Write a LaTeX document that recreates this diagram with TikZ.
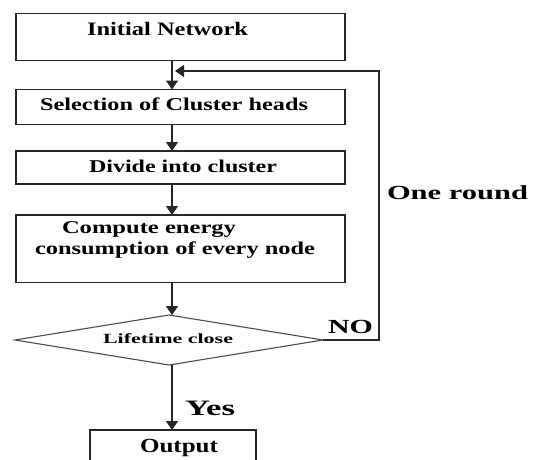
\documentclass[tikz,border=0pt]{standalone}
\usepackage{graphicx}
\usepackage{fontspec}
\setmainfont{Liberation Serif}
\usetikzlibrary{shapes.geometric,arrows.meta}
\newcommand\fw[3]{\resizebox{#1}{\height}{\fontsize{#2}{#2}\selectfont\bfseries #3}}
\begin{document}
\begin{tikzpicture}[x=1pt,y=-1pt,
  box/.style={draw=black!85,line width=1.5pt,inner sep=0pt,outer sep=0pt,anchor=north west},
  dia/.style={diamond,draw=black!70,line width=1.1pt,inner sep=0pt,outer sep=0pt},
  txt/.style={inner sep=0pt,outer sep=0pt,anchor=base west,text=black},
  conn/.style={draw=black!85,line width=1.5pt},
  arr/.style={conn,-{Triangle[width=12pt,length=9pt]}}]
\useasboundingbox (0,0) rectangle (536,459);
\clip (0,0) rectangle (536,459);
% boxes
\node[box,minimum width=329pt,minimum height=47pt] (init) at (16,13.5) {};
\node[box,minimum width=329pt,minimum height=35pt] (sel) at (16,89.5) {};
\node[box,minimum width=329pt,minimum height=33pt] (div) at (16,151) {};
\node[box,minimum width=329pt,minimum height=67.5pt] (comp) at (16,215) {};
\node[dia,minimum width=308pt,minimum height=50pt] (dec) at (169,340) {};
\node[box,minimum width=166pt,minimum height=45pt] (out) at (90,430) {};
% texts
\node[txt] (tInit) at (87,35) {\fw{161pt}{19}{Initial Network}};
\node[txt] (tSel) at (40,110) {\fw{268pt}{18}{Selection of Cluster heads}};
\node[txt] (tDiv) at (89,172) {\fw{188pt}{18}{Divide into cluster}};
\node[txt] (tCompA) at (62,233) {\fw{174pt}{18}{Compute energy}};
\node[txt] (tCompB) at (35,254) {\fw{280pt}{18}{consumption of every node}};
\node[txt] (tDec) at (103,343) {\fw{130pt}{14}{Lifetime close}};
\node[txt] (tNo) at (328,333) {\fw{45pt}{20}{NO}};
\node[txt] (tRound) at (387,199) {\fw{141pt}{20}{One round}};
\node[txt] (tYes) at (185,415) {\fw{50pt}{22}{Yes}};
\node[txt] (tOut) at (140,452) {\fw{78pt}{20}{Output}};
% connectors
\coordinate (ax) at (172,0);
\coordinate (lpTop) at (379,71);
\coordinate (lpEnd) at (175,71);
\draw[arr] (init.south -| ax) -- (sel.north -| ax);
\draw[arr] (sel.south -| ax) -- (div.north -| ax);
\draw[arr] (div.south -| ax) -- (comp.north -| ax);
\draw[arr] (comp.south -| ax) -- (dec.north -| ax);
\draw[arr] (dec.south -| ax) -- (out.north -| ax);
\draw[arr] (dec.east) -| (lpTop) -- (lpEnd);
\end{tikzpicture}
\end{document}
